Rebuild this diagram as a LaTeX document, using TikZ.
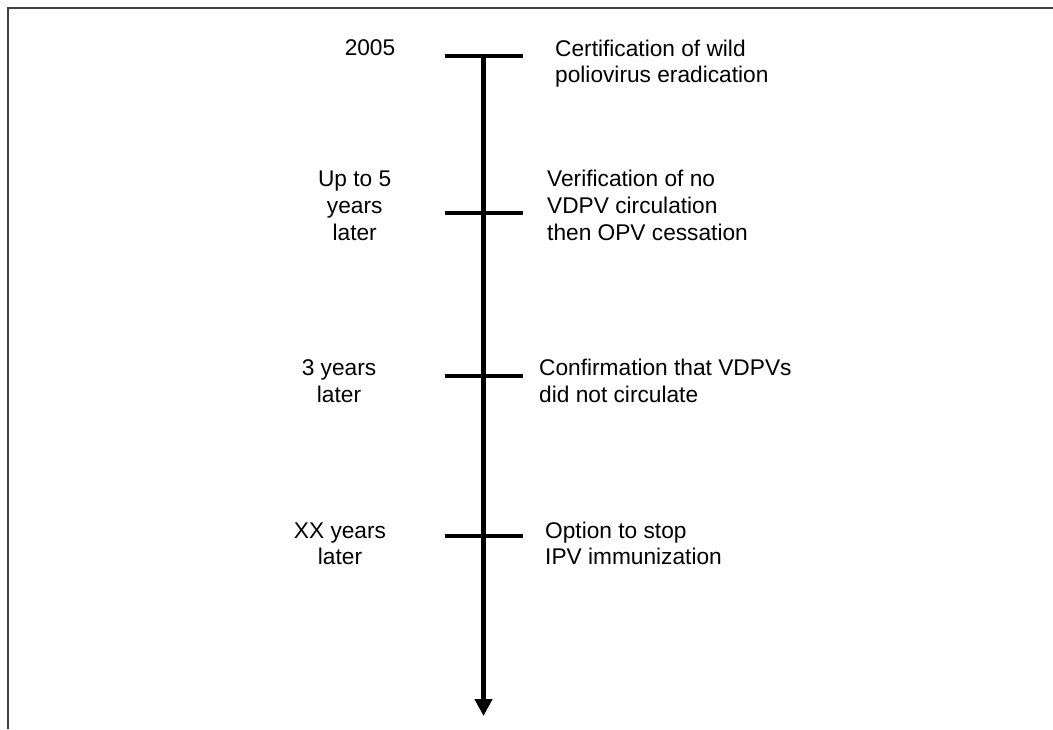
\documentclass[tikz,border=0pt]{standalone}
\usepackage{fontspec}
\setmainfont{Liberation Sans}
\usetikzlibrary{arrows.meta}
\begin{document}
\begin{tikzpicture}[x=1pt,y=-1pt,
  lbl/.style={inner sep=0pt, align=left, font=\fontsize{22.7}{26.7}\selectfont},
  yrs/.style={inner sep=0pt, align=center, font=\fontsize{22.7}{26.7}\selectfont},
  axis/.style={line width=4.5pt, -{Triangle[width=17pt,length=17pt]}},
  tickln/.style={line width=4pt},
  frameln/.style={line width=1.4pt, draw=black!75}]
\useasboundingbox (0,0) rectangle (1053,729);
% frame (only top and left edges visible)
\coordinate (fTL) at (8,8);
\coordinate (fTR) at (1053,8);
\coordinate (fBL) at (8,729);
\draw[frameln] (fTR) -- (fTL) -- (fBL);
% axis
\coordinate (t1) at (483.5,56);
\coordinate (t2) at (483.5,213);
\coordinate (t3) at (483.5,376);
\coordinate (t4) at (483.5,536);
\coordinate (tend) at (483.5,716);
\draw[axis] (t1) -- (tend);
\foreach \t in {t1,t2,t3,t4}{
  \draw[tickln] ([xshift=-39pt]\t) -- ([xshift=39pt]\t);
}
% right labels (base anchor = baseline of last line)
\node[lbl, anchor=base west] (r1) at (555,82.7) {Certification of wild\\poliovirus eradication};
\node[lbl, anchor=base west] (r2) at (547,240) {Verification of no\\VDPV circulation\\then OPV cessation};
\node[lbl, anchor=base west] (r3) at (539,402.4) {Confirmation that VDPVs\\did not circulate};
\node[lbl, anchor=base west] (r4) at (545,564.7) {Option to stop\\IPV immunization};
% left labels
\node[yrs, anchor=base] (l1) at (370,55) {2005};
\node[yrs, anchor=base] (l2) at (354.7,240) {Up to 5\\years\\later};
\node[yrs, anchor=base] (l3) at (339,402.4) {3 years\\later};
\node[yrs, anchor=base] (l4) at (340,564.7) {XX years\\later};
\end{tikzpicture}
\end{document}
